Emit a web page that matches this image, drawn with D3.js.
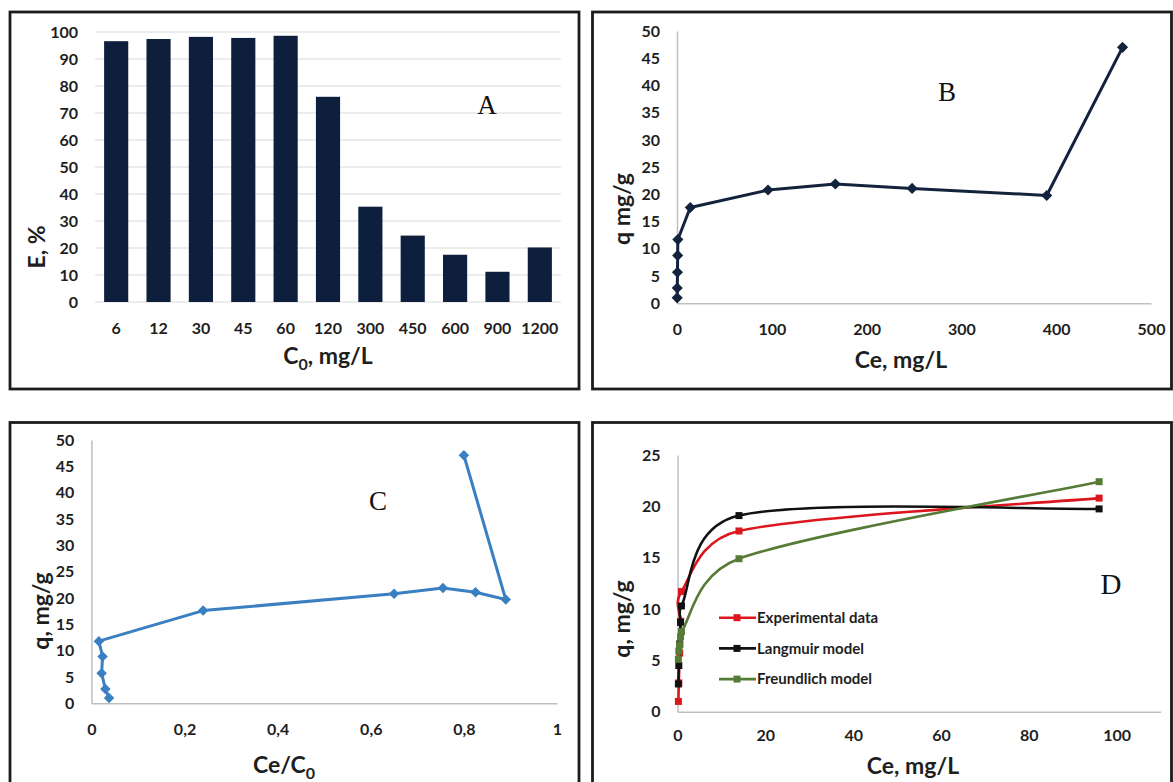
<!DOCTYPE html>
<html lang="en">
<head>
<meta charset="UTF-8">
<title>Adsorption panels A-D</title>
<script src="https://d3js.org/d3.v7.min.js"></script>
<style>
  body { margin: 0; background: #fff; }
  svg text { font-family: Lato, "Open Sans", sans-serif; font-weight: bold; fill: #1e1e1e; }
  .tick text { font-size: 16px; }
  .axis-title { font-size: 23px; }
  .panel-letter { font-family: "Liberation Serif", serif; font-weight: normal; font-size: 27px; fill: #111; }
  .legend text { font-size: 15px; }
  .frame { fill: none; stroke: #1c1c1c; stroke-width: 2.8; }
  .axis .domain { stroke: #bfbfbf; stroke-width: 1.5; }
</style>
</head>
<body>
<svg id="chart" width="1173" height="782"></svg>
<script>
// A: removal efficiency for each initial concentration
const c0Labels = ["6", "12", "30", "45", "60", "120", "300", "450", "600", "900", "1200"];
const removalPct = [96.6, 97.4, 98.2, 97.8, 98.6, 76.0, 35.3, 24.6, 17.5, 11.2, 20.2];
const yTicksA = [0, 10, 20, 30, 40, 50, 60, 70, 80, 90, 100];

// B: uptake against equilibrium concentration
const ceB = [0.2, 0.3, 0.5, 0.7, 0.9, 14, 96, 167, 248, 390, 470];
const qB = [1.0, 2.8, 5.7, 8.8, 11.7, 17.6, 20.8, 21.9, 21.1, 19.8, 47.0];
const xTicksB = [0, 100, 200, 300, 400, 500];
const yTicksB = [0, 5, 10, 15, 20, 25, 30, 35, 40, 45, 50];

// C: uptake against Ce/C0
const ratioC = [0.038, 0.030, 0.022, 0.024, 0.016, 0.24, 0.65, 0.755, 0.825, 0.89, 0.80];
const qC = [1.0, 2.7, 5.7, 8.9, 11.8, 17.6, 20.8, 21.9, 21.1, 19.7, 47.1];
const xTicksC = [0, 0.2, 0.4, 0.6, 0.8, 1];
const yTicksC = [0, 5, 10, 15, 20, 25, 30, 35, 40, 45, 50];

// D: experimental data vs isotherm models
const ceD = [0.2, 0.3, 0.5, 0.7, 0.9, 14, 96];
const qExp = [1.0, 2.8, 5.7, 8.8, 11.7, 17.6, 20.8];
const qLangmuir = [2.7, 4.5, 6.6, 8.7, 10.3, 19.1, 19.75];
const qFreundlich = [5.1, 5.9, 6.5, 7.3, 7.8, 14.9, 22.4];
const seriesNames = ["Experimental data", "Langmuir model", "Freundlich model"];
const seriesColors = ["#dc161c", "#111111", "#567b36"];
const xTicksD = [0, 20, 40, 60, 80, 100];
const yTicksD = [0, 5, 10, 15, 20, 25];

const svg = d3.select("#chart");

// panel frames
[[10, 12, 569, 377], [592.5, 12, 579, 377], [10, 422.5, 569, 400], [592.5, 422.5, 579, 400]]
  .forEach(f => svg.append("rect").attr("class", "frame")
    .attr("x", f[0]).attr("y", f[1]).attr("width", f[2]).attr("height", f[3]));

function drawYAxis(x, scale, ticks, keepLine, fmt) {
  const g = svg.append("g").attr("class", "axis")
    .attr("transform", `translate(${x},0)`)
    .call(d3.axisLeft(scale).tickValues(ticks).tickSize(0).tickPadding(17).tickFormat(fmt || (d => d)));
  if (!keepLine) g.select(".domain").remove();
  return g;
}

function drawXAxis(y, scale, ticks, pad, fmt) {
  return svg.append("g").attr("class", "axis")
    .attr("transform", `translate(0,${y})`)
    .call(d3.axisBottom(scale).tickValues(ticks).tickSize(0).tickPadding(pad).tickFormat(fmt || (d => d)));
}

function yTitle(x, y, text) {
  svg.append("text").attr("class", "axis-title")
    .attr("transform", `translate(${x},${y}) rotate(-90)`)
    .attr("text-anchor", "middle").attr("dy", "0.35em").text(text);
}

function xTitle(x, y, main, sub, rest) {
  const t = svg.append("text").attr("class", "axis-title")
    .attr("x", x).attr("y", y).attr("text-anchor", "middle").attr("dy", "0.35em");
  t.append("tspan").text(main);
  if (sub) {
    t.append("tspan").attr("dy", 6).style("font-size", "16px").text(sub);
    t.append("tspan").attr("dy", -6).text(rest);
  }
}

function letter(x, y, s, size) {
  svg.append("text").attr("class", "panel-letter")
    .style("font-size", (size || 27) + "px")
    .attr("x", x).attr("y", y + 9).attr("text-anchor", "middle").text(s);
}

// smoothed line like the spreadsheet one: catmull-rom handles (neighbour
// difference / 6), but never longer than half of the segment
function smoothCurve(context) {
  let pts = [];
  const handle = (a, b, seg) => {
    let dx = (b[0] - a[0]) / 6, dy = (b[1] - a[1]) / 6;
    const l = Math.hypot(dx, dy), max = seg * 0.5;
    if (l > max && l > 0) { dx *= max / l; dy *= max / l; }
    return [dx, dy];
  };
  return {
    areaStart() {}, areaEnd() {},
    lineStart() { pts = []; },
    point(x, y) { pts.push([x, y]); },
    lineEnd() {
      const n = pts.length;
      if (!n) return;
      context.moveTo(pts[0][0], pts[0][1]);
      for (let i = 0; i < n - 1; i++) {
        const p0 = pts[Math.max(i - 1, 0)], p1 = pts[i], p2 = pts[i + 1], p3 = pts[Math.min(i + 2, n - 1)];
        const seg = Math.hypot(p2[0] - p1[0], p2[1] - p1[1]);
        const h1 = handle(p0, p2, seg), h2 = handle(p1, p3, seg);
        context.bezierCurveTo(p1[0] + h1[0], p1[1] + h1[1],
          p2[0] - h2[0], p2[1] - h2[1], p2[0], p2[1]);
      }
    }
  };
}

const marker = d3.symbol().type(d3.symbolSquare);

// ---------- A ----------
const xA = d3.scaleBand().domain(c0Labels).range([95, 561]).paddingInner(0.43).paddingOuter(0.215);
const yA = d3.scaleLinear().domain([0, 100]).range([302, 32]);

svg.append("g").selectAll("line").data(yTicksA).join("line")
  .attr("x1", 95).attr("x2", 561)
  .attr("y1", d => yA(d)).attr("y2", d => yA(d))
  .attr("stroke", "#d9d9d9").attr("stroke-width", 1.2);

svg.append("g").selectAll("rect").data(c0Labels).join("rect")
  .attr("x", d => xA(d)).attr("width", xA.bandwidth())
  .attr("y", (d, i) => yA(removalPct[i]))
  .attr("height", (d, i) => yA(0) - yA(removalPct[i]))
  .attr("fill", "#0d1f3d");

drawYAxis(95, yA, yTicksA, false);
drawXAxis(302, xA, c0Labels, 21).select(".domain").remove();
yTitle(37, 247, "E, %");
xTitle(328, 356, "C", "0", ", mg/L");
letter(487, 105, "A");

// ---------- B ----------
const xB = d3.scaleLinear().domain([0, 500]).range([677, 1151]);
const yB = d3.scaleLinear().domain([0, 50]).range([303.3, 31]);
drawYAxis(677, yB, yTicksB, true);
drawXAxis(303.3, xB, xTicksB, 20);

svg.append("path")
  .attr("d", d3.line().x((d, i) => xB(ceB[i])).y(d => yB(d))(qB))
  .attr("fill", "none").attr("stroke", "#13223d").attr("stroke-width", 3).attr("stroke-linejoin", "round");
svg.append("g").selectAll("path").data(qB).join("path")
  .attr("d", marker.size(62))
  .attr("transform", (d, i) => `translate(${xB(ceB[i])},${yB(d)}) rotate(45)`)
  .attr("fill", "#13223d");

yTitle(622, 209, "q mg/g");
xTitle(901, 360, "Ce, mg/L");
letter(947, 92, "B");

// ---------- C ----------
const xC = d3.scaleLinear().domain([0, 1]).range([91.4, 557]);
const yC = d3.scaleLinear().domain([0, 50]).range([703.3, 440]);
const commaFmt = d => String(d).replace(".", ",");
drawYAxis(91.4, yC, yTicksC, true);
drawXAxis(703.3, xC, xTicksC, 20, commaFmt);

svg.append("path")
  .attr("d", d3.line().x((d, i) => xC(ratioC[i])).y(d => yC(d))(qC))
  .attr("fill", "none").attr("stroke", "#3a7fc2").attr("stroke-width", 3).attr("stroke-linejoin", "round");
svg.append("g").selectAll("path").data(qC).join("path")
  .attr("d", marker.size(55))
  .attr("transform", (d, i) => `translate(${xC(ratioC[i])},${yC(d)}) rotate(45)`)
  .attr("fill", "#3a7fc2");

yTitle(41, 611, "q, mg/g");
xTitle(284, 765, "Ce/C", "0", "");
letter(378, 501, "C");

// ---------- D ----------
const xD = d3.scaleLinear().domain([0, 110]).range([677.5, 1160.6]);
const yD = d3.scaleLinear().domain([0, 25]).range([711.7, 455]);
drawYAxis(677.5, yD, yTicksD, true);
drawXAxis(711.7, xD, xTicksD, 18);

const smooth = d3.line().curve(smoothCurve)
  .x((d, i) => xD(ceD[i])).y(d => yD(d));
[qExp, qLangmuir, qFreundlich].forEach((vals, k) => {
  svg.append("path").attr("d", smooth(vals))
    .attr("fill", "none").attr("stroke", seriesColors[k]).attr("stroke-width", 2.6);
  svg.append("g").selectAll("rect").data(vals).join("rect")
    .attr("x", (d, i) => xD(ceD[i]) - 3.5).attr("y", d => yD(d) - 3.5)
    .attr("width", 7).attr("height", 7).attr("fill", seriesColors[k]);
});

const legend = svg.append("g").attr("class", "legend");
seriesNames.forEach((name, k) => {
  const y = 617.7 + k * 30.7;
  legend.append("line").attr("x1", 719).attr("x2", 756).attr("y1", y).attr("y2", y)
    .attr("stroke", seriesColors[k]).attr("stroke-width", 2.6);
  legend.append("rect").attr("x", 733.5).attr("y", y - 3.5).attr("width", 7).attr("height", 7)
    .attr("fill", seriesColors[k]);
  legend.append("text").attr("x", 757).attr("y", y).attr("dy", "0.35em").text(name);
});

yTitle(622, 619, "q, mg/g");
xTitle(913, 766, "Ce, mg/L");
letter(1111, 585, "D", 29);
</script>
</body>
</html>
